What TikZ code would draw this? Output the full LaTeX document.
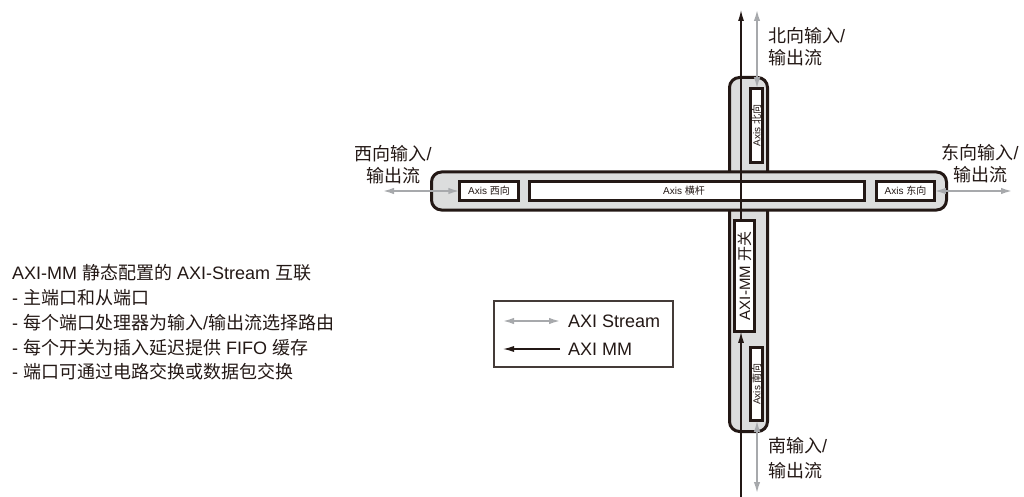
\documentclass[tikz,border=0pt]{standalone}
\usepackage{fontspec}
\setmainfont{Liberation Sans}
\newfontfamily\zhfont{Noto Sans CJK SC}
\newcommand\zh[1]{{\zhfont #1}}
\usetikzlibrary{arrows.meta}
\definecolor{ink}{HTML}{231815}
\definecolor{barfill}{HTML}{DCDDDD}
\definecolor{streamgray}{HTML}{A7A9AC}
\tikzset{
  bar/.style={draw=ink, line width=3pt, fill=barfill, rounded corners=10pt, inner sep=0pt, outer sep=0pt},
  inbox/.style={draw=ink, line width=2.6pt, fill=white, inner sep=0pt, outer sep=0pt, text=ink},
  smalltxt/.style={font=\fontsize{10}{12}\selectfont},
  stream/.style={draw=streamgray, line width=1.6pt, {Latex[length=11pt,width=6.5pt]}-{Latex[length=11pt,width=6.5pt]}},
  mm/.style={draw=ink, line width=1.2pt, -{Latex[length=11pt,width=6pt]}},
  lbl/.style={inner sep=0pt, text=ink, font=\fontsize{18}{22}\selectfont},
  legendbox/.style={draw=ink!85, line width=1.1pt, inner sep=0pt},
}
\begin{document}
\begin{tikzpicture}[x=1pt, y=-1pt]
\useasboundingbox (0,0) rectangle (1024,497);

% bars
\node[bar, minimum width=38, minimum height=354] (vbar) at (748.5,254.5) {};
\node[bar, minimum width=515, minimum height=38] (hbar) at (689,191) {};

% inner boxes
\node[inbox, smalltxt, minimum width=59.5, minimum height=19.5] (west) at (489,191) {Axis \zh{西向}};
\node[inbox, smalltxt, minimum width=335.5, minimum height=19.5] (cross) at (697,191) {Axis \zh{横杆}\hspace*{26pt}};
\node[inbox, smalltxt, minimum width=58.5, minimum height=19.5] (east) at (905.5,191) {Axis \zh{东向}};
\node[inbox, smalltxt, rotate=90, minimum width=74.5, minimum height=12.5] (north) at (756.5,125.5) {Axis \zh{北向}};
\node[inbox, font=\fontsize{15}{17}\selectfont, rotate=90, minimum width=111.5, minimum height=20.5] (switch) at (744.5,276) {AXI-MM \zh{开关}};
\node[inbox, smalltxt, rotate=90, minimum width=73.5, minimum height=12.5] (south) at (756.5,384) {Axis \zh{南向}};

% free ends
\coordinate (btop) at (741,10);
\coordinate (bbot) at (741,497);
\coordinate (ntop) at (757,10);
\coordinate (sbot) at (757,493);
\coordinate (wend) at (383,191);
\coordinate (eend) at (1012,191);

% AXI MM line
\draw[mm] (btop |- switch.east) -- (btop);
\draw[mm] (bbot) -- (bbot |- switch.west);

% AXI stream arrows
\draw[stream] (ntop |- north.east) -- (ntop);
\draw[stream] (sbot |- south.west) -- (sbot);
\draw[stream] (wend) -- (west.west);
\draw[stream] (east.east) -- (eend);

% labels
\node[lbl, anchor=west, align=left] (nlbl) at (768,47) {\zh{北向输入}/\\\zh{输出流}};
\node[lbl, anchor=west, align=left, font=\fontsize{18}{25.5}\selectfont] (slbl) at (768,458) {\zh{南输入}/\\\zh{输出流}};
\node[lbl, align=center] (wlbl) at (393,164.5) {\zh{西向输入}/\\\zh{输出流}};
\node[lbl, align=center] (elbl) at (980,164) {\zh{东向输入}/\\\zh{输出流}};

% legend
\node[legendbox, minimum width=179, minimum height=66] (legend) at (583.5,334) {};
\coordinate (l1a) at (503,321);
\coordinate (l1b) at (560,321);
\coordinate (l2a) at (503,349);
\coordinate (l2b) at (560,349);
\draw[stream] (l1a) -- (l1b);
\draw[mm] (l2b) -- (l2a);
\node[lbl, anchor=west] (lt1) at (568,321) {AXI Stream};
\node[lbl, anchor=west] (lt2) at (568,349) {AXI MM};

% description
\node[lbl, anchor=west, align=left, font=\fontsize{18}{24.75}\selectfont] (desc) at (12,322.5)
{AXI-MM \zh{静态配置的} AXI-Stream \zh{互联}\\
- \zh{主端口和从端口}\\
- \zh{每个端口处理器为输入}/\zh{输出流选择路由}\\
- \zh{每个开关为插入延迟提供} FIFO \zh{缓存}\\
- \zh{端口可通过电路交换或数据包交换}};
\end{tikzpicture}
\end{document}
